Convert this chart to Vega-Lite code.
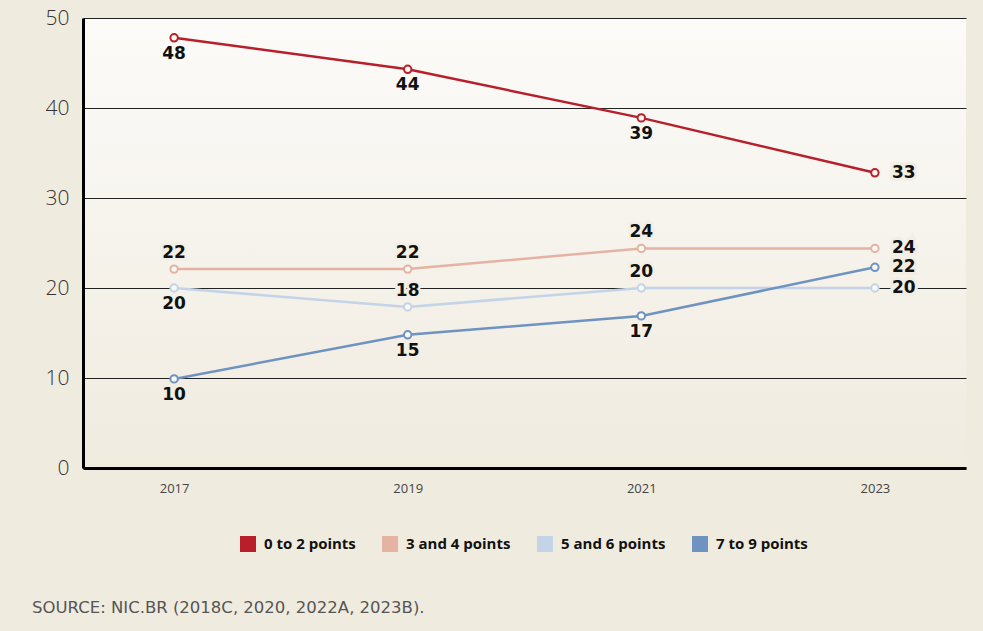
{
  "$schema": "https://vega.github.io/schema/vega-lite/v6.json",
  "width": 883,
  "height": 450,
  "autosize": {"type": "none"},
  "padding": {"left": 83, "top": 18, "right": 17, "bottom": 163},
  "background": "#f0ebdf",
  "config": {
    "view": {
      "stroke": null,
      "fill": {"gradient": "linear", "x1": 0, "y1": 0, "x2": 0, "y2": 1,
        "stops": [{"offset": 0, "color": "#fcfbf9"}, {"offset": 1, "color": "#f0ebdf"}]}
    },
    "font": "Open Sans"
  },
  "data": {
    "values": [
      {"series": "0 to 2 points", "year": "2017", "value": 47.8, "label": "48"},
      {"series": "0 to 2 points", "year": "2019", "value": 44.3, "label": "44"},
      {"series": "0 to 2 points", "year": "2021", "value": 38.9, "label": "39"},
      {"series": "0 to 2 points", "year": "2023", "value": 32.8, "label": "33"},
      {"series": "3 and 4 points", "year": "2017", "value": 22.1, "label": "22"},
      {"series": "3 and 4 points", "year": "2019", "value": 22.1, "label": "22"},
      {"series": "3 and 4 points", "year": "2021", "value": 24.4, "label": "24"},
      {"series": "3 and 4 points", "year": "2023", "value": 24.4, "label": "24"},
      {"series": "5 and 6 points", "year": "2017", "value": 20.0, "label": "20"},
      {"series": "5 and 6 points", "year": "2019", "value": 17.9, "label": "18"},
      {"series": "5 and 6 points", "year": "2021", "value": 20.0, "label": "20"},
      {"series": "5 and 6 points", "year": "2023", "value": 20.0, "label": "20"},
      {"series": "7 to 9 points", "year": "2017", "value": 9.9, "label": "10"},
      {"series": "7 to 9 points", "year": "2019", "value": 14.8, "label": "15"},
      {"series": "7 to 9 points", "year": "2021", "value": 16.9, "label": "17"},
      {"series": "7 to 9 points", "year": "2023", "value": 22.3, "label": "22"}
    ]
  },
  "title": {
    "text": "SOURCE: NIC.BR (2018C, 2020, 2022A, 2023B).",
    "orient": "bottom",
    "anchor": "start",
    "frame": "group",
    "dx": -51,
    "offset": 48,
    "fontSize": 16.5,
    "fontWeight": "normal",
    "color": "#555555",
    "font": "DejaVu Sans"
  },
  "encoding": {
    "x": {
      "field": "year", "type": "ordinal",
      "scale": {"type": "point", "padding": 0.39},
      "axis": {"title": null, "labelAngle": 0, "ticks": false, "domainColor": "#000000", "domainWidth": 3,
        "labelFontSize": 13, "labelColor": "#444444", "labelPadding": 14, "grid": false}
    },
    "y": {
      "field": "value", "type": "quantitative",
      "scale": {"domain": [0, 50], "nice": false},
      "axis": {"title": null, "values": [0, 10, 20, 30, 40, 50], "ticks": false, "domainColor": "#000000", "domainWidth": 3,
        "labelFontSize": 21, "labelFontWeight": 300, "labelColor": "#333333", "labelPadding": 14,
        "gridColor": "#222222", "gridWidth": 1}
    }
  },
  "layer": [
    {
      "mark": {"type": "line", "strokeWidth": 2.5},
      "encoding": {
        "color": {
          "field": "series", "type": "nominal",
          "scale": {"domain": ["0 to 2 points", "3 and 4 points", "5 and 6 points", "7 to 9 points"],
            "range": ["#b81f2a", "#e4b3a3", "#c3d3e8", "#6f93c0"]},
          "legend": {
            "title": null, "orient": "none", "legendX": 157, "legendY": 518, "direction": "horizontal",
            "symbolType": "square", "symbolSize": 256, "symbolStrokeWidth": 0,
            "labelFontSize": 15, "labelFontWeight": "bold", "labelColor": "#111111", "labelFont": "Open Sans",
            "labelOffset": 8, "columnPadding": 26,
            "encode": {"symbols": {"update": {"fill": {"scale": "color", "field": "value"}, "fillOpacity": {"value": 1}}}}
          }
        }
      }
    },
    {
      "mark": {"type": "point", "filled": false, "fill": "#faf8f3", "size": 55, "strokeWidth": 2, "opacity": 1},
      "encoding": {"color": {"field": "series", "type": "nominal", "legend": null}}
    },
    {
      "transform": [{"filter": "datum.year != '2023' && (datum.series == '0 to 2 points' || datum.series == '7 to 9 points' || (datum.series == '5 and 6 points' && datum.year == '2017'))"}],
      "mark": {"type": "text", "dy": 16, "font": "DejaVu Sans", "fontSize": 17, "fontWeight": "bold", "color": "#111111", "baseline": "middle"},
      "encoding": {"text": {"field": "label"}}
    },
    {
      "transform": [{"filter": "datum.year != '2023' && (datum.series == '3 and 4 points' || (datum.series == '5 and 6 points' && datum.year != '2017'))"}],
      "mark": {"type": "text", "dy": -16, "font": "DejaVu Sans", "fontSize": 17, "fontWeight": "bold", "color": "#111111", "baseline": "middle", "stroke": "#f3efe6", "strokeWidth": 5},
      "encoding": {"text": {"field": "label"}}
    },
    {
      "transform": [{"filter": "datum.year != '2023' && (datum.series == '3 and 4 points' || (datum.series == '5 and 6 points' && datum.year != '2017'))"}],
      "mark": {"type": "text", "dy": -16, "font": "DejaVu Sans", "fontSize": 17, "fontWeight": "bold", "color": "#111111", "baseline": "middle"},
      "encoding": {"text": {"field": "label"}}
    },
    {
      "transform": [{"filter": "datum.year == '2023'"}],
      "mark": {"type": "text", "dx": 17, "align": "left", "font": "DejaVu Sans", "fontSize": 17, "fontWeight": "bold", "color": "#111111", "baseline": "middle", "stroke": "#f2eee4", "strokeWidth": 6},
      "encoding": {"text": {"field": "label"}}
    },
    {
      "transform": [{"filter": "datum.year == '2023'"}],
      "mark": {"type": "text", "dx": 17, "align": "left", "font": "DejaVu Sans", "fontSize": 17, "fontWeight": "bold", "color": "#111111", "baseline": "middle"},
      "encoding": {"text": {"field": "label"}}
    }
  ]
}
